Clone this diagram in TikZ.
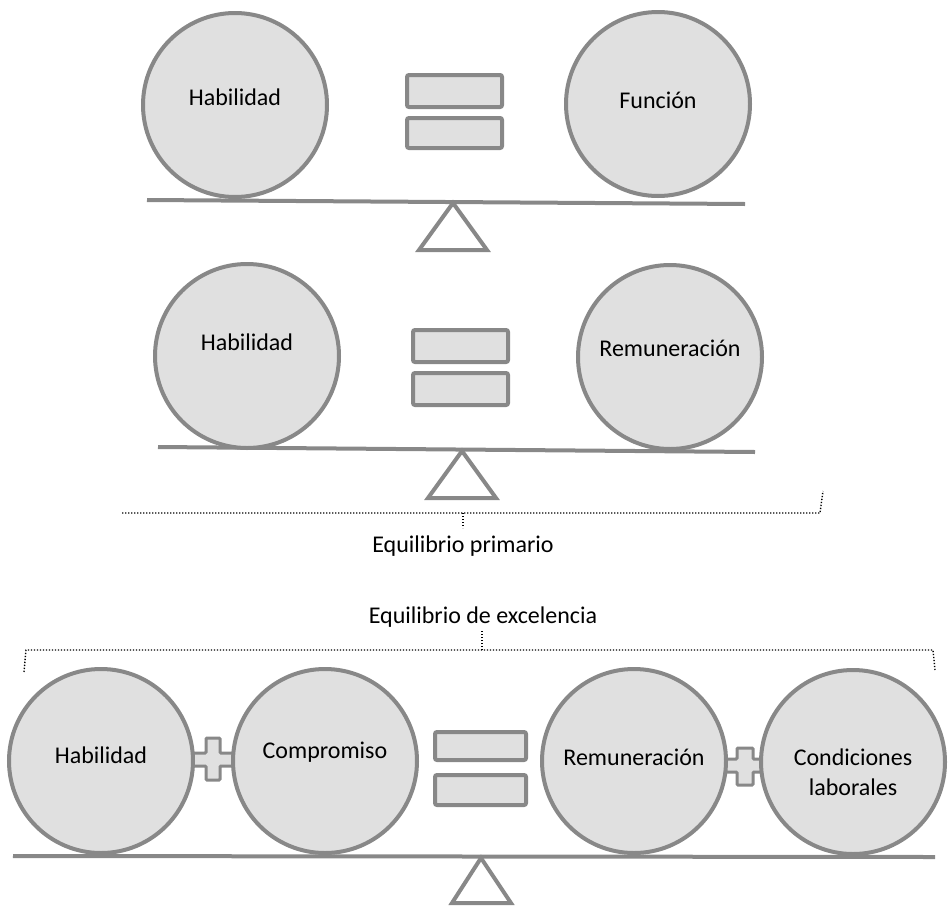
\documentclass[tikz,border=0pt]{standalone}
\usepackage{fontspec}
\setmainfont{Carlito}
\definecolor{edgegray}{HTML}{888888}
\definecolor{fillgray}{HTML}{E0E0E0}
\begin{document}
\begin{tikzpicture}[x=1pt,y=-1pt,
 ball/.style={circle,draw=edgegray,fill=fillgray,line width=4pt,minimum size=184pt,inner sep=0pt},
 beam/.style={draw=edgegray,line width=4pt},
 fulcrum/.style={draw=edgegray,line width=4pt,fill=white,line join=miter},
 eqbar/.style={draw=edgegray,fill=fillgray,line width=4pt,rounded corners=2pt},
 plusbox/.style={draw=edgegray,fill=fillgray,line width=3pt,rounded corners=1pt},
 lbl/.style={font=\fontsize{24}{30}\selectfont,align=center,text=black,inner sep=0pt},
 brace/.style={draw=black,line width=1.4pt,dash pattern=on 1.3pt off 1.7pt}]
\useasboundingbox (0,0) rectangle (950,905);

% ---------- section 1 ----------
\draw[fulcrum] (453,203) -- (419,250) -- (487,250) -- cycle;
\draw[beam] (147,200) -- (745,204);
\node[ball] (a1) at (235,105) {};
\node[ball] (b1) at (658,104) {};
\node[lbl] (ta1) at (235,97) {Habilidad};
\node[lbl] (tb1) at (658,100) {Función};
\draw[eqbar] (407,75) rectangle (502,107);
\draw[eqbar] (407,118) rectangle (502,148);

% ---------- section 2 ----------
\draw[fulcrum] (462,451) -- (428,498) -- (496,498) -- cycle;
\draw[beam] (158,447) -- (755,452);
\node[ball] (a2) at (247,356) {};
\node[ball] (b2) at (670,357) {};
\node[lbl] (ta2) at (247,342) {Habilidad};
\node[lbl] (tb2) at (670,348) {Remuneración};
\draw[eqbar] (413,330) rectangle (508,362);
\draw[eqbar] (413,373) rectangle (508,405);

\coordinate (p1) at (122,513);
\coordinate (p2) at (820,513);
\coordinate (p3) at (823,491);
\coordinate (pm) at (463,513);
\coordinate (pt) at (463,528);
\draw[brace] (p1) -- (p2) -- (p3);
\draw[brace] (pm) -- (pt);
\node[lbl] (eq1) at (463,546) {Equilibrio primario};

% ---------- section 3 ----------
\node[lbl] (eq2) at (483,617) {Equilibrio de excelencia};
\coordinate (q1) at (24,672);
\coordinate (q2) at (26,650);
\coordinate (q3) at (933,650);
\coordinate (q4) at (935,670);
\coordinate (qm) at (482,650);
\coordinate (qt) at (482,630);
\draw[brace] (q1) -- (q2) -- (q3) -- (q4);
\draw[brace] (qm) -- (qt);

\draw[fulcrum] (481,858) -- (452,903) -- (511,903) -- cycle;
\draw[beam] (13,856) -- (935,857);

% plus signs
\draw[plusbox] (206,738) -- (220,738) -- (220,753) -- (236,753) -- (236,766) -- (220,766)
  -- (220,780) -- (206,780) -- (206,766) -- (190,766) -- (190,753) -- (206,753) -- cycle;
\draw[plusbox] (737,748) -- (753,748) -- (753,759) -- (766,759) -- (766,772) -- (753,772)
  -- (753,785) -- (737,785) -- (737,772) -- (722,772) -- (722,759) -- (737,759) -- cycle;

\node[ball] (a3) at (101,761) {};
\node[ball] (c3) at (325,761) {};
\node[ball] (b3) at (634,761) {};
\node[ball] (d3) at (853,762) {};
\node[lbl] (ta3) at (101,755) {Habilidad};
\node[lbl] (tc3) at (325,752) {Compromiso};
\node[lbl] (tb3) at (634,757) {Remuneración};
\node[lbl] (td3) at (853,772) {Condiciones\\laborales};

\draw[eqbar] (435,732) rectangle (526,760);
\draw[eqbar] (435,775) rectangle (526,805);
\end{tikzpicture}
\end{document}
